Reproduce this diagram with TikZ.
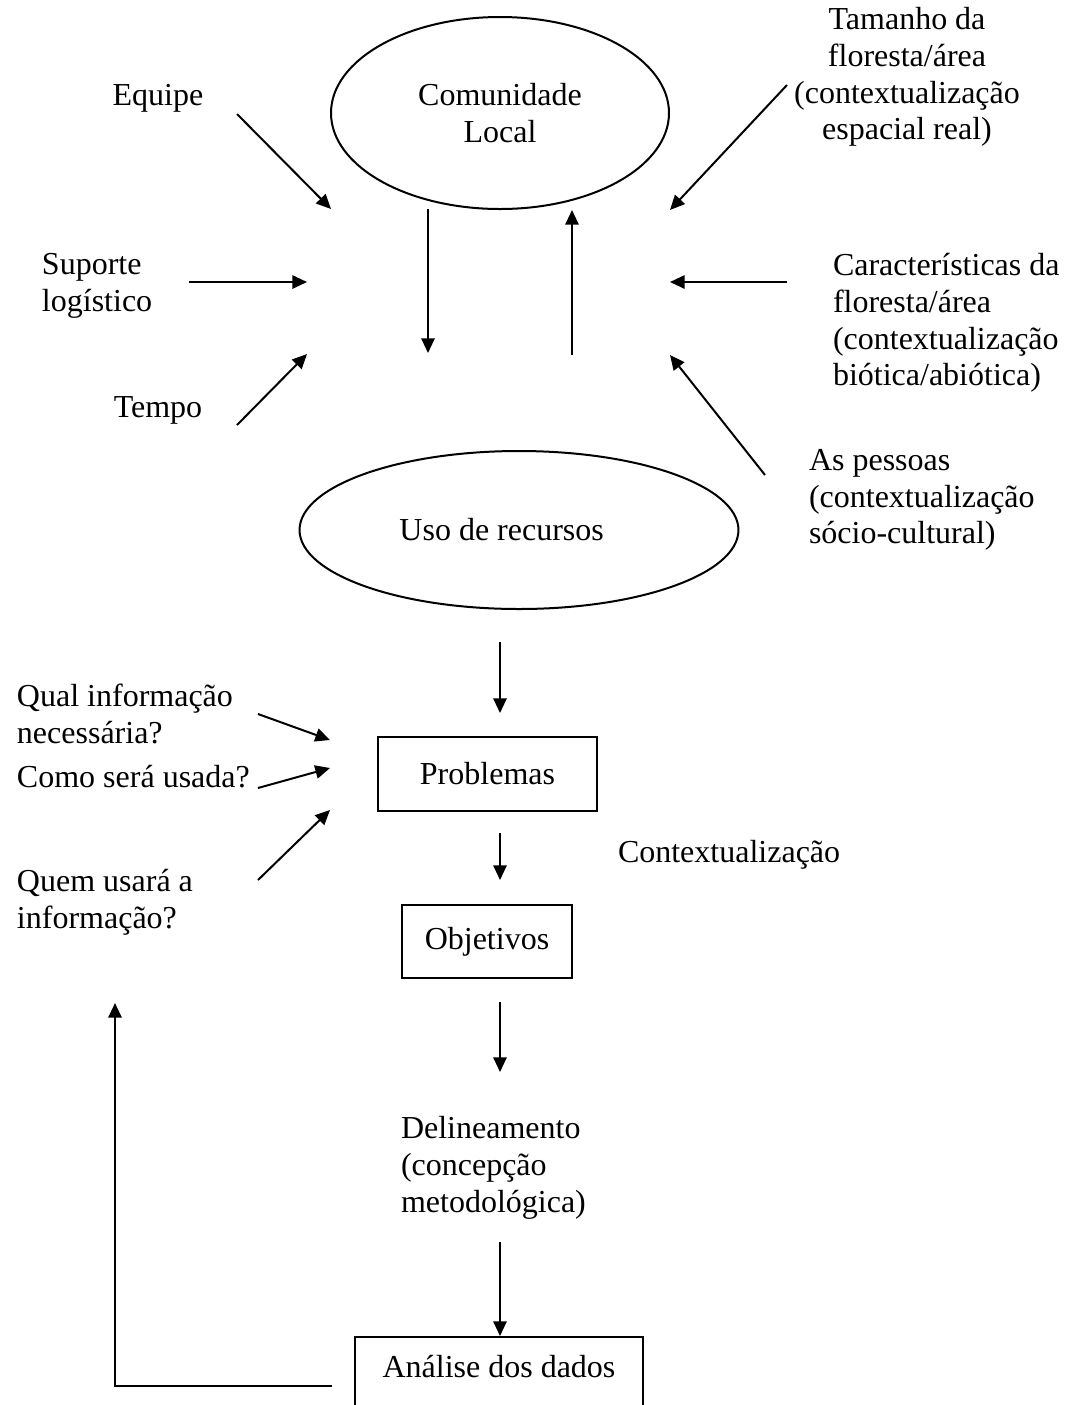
\documentclass[tikz,border=0pt]{standalone}
\usepackage{fontspec}
\setmainfont{Liberation Serif}
\usetikzlibrary{arrows.meta,shapes.geometric,positioning}

\begin{document}
\begin{tikzpicture}[x=0.375pt,y=-0.375pt,>={Triangle[length=5.5pt,width=5pt]},line width=0.75pt,
    every node/.style={font=\fontsize{12}{13.8}\selectfont,inner sep=0pt},
    rotulo/.style={align=left,anchor=west},
    elipse/.style={draw,ellipse,align=center},
    caixa/.style={draw,rectangle}]
  \useasboundingbox (0,0) rectangle (1070,1405);
  \node[elipse,minimum width=126.75pt,minimum height=72pt] (comunidade) at (500,113) {Comunidade\\Local};
  \node[elipse,minimum width=164.6pt,minimum height=59.25pt] (uso) at (519,530) {Uso de recursos\hspace*{13pt}};
  \node (equipe) at (158,98) {Equipe};
  \node[rotulo] (suporte) at (41,286) {Suporte\\log\'istico};
  \node (tempo) at (158,410) {Tempo};
  \node[align=center] (tamanho) at (907,77) {Tamanho da\\floresta/área\\(contextualização\\espacial real)};
  \node[rotulo] (caract) at (832,323) {Características da\\floresta/área\\(contextualização\\biótica/abiótica)};
  \node[rotulo] (pessoas) at (808,500) {As pessoas\\(contextualização\\sócio-cultural)};
  \node[caixa,minimum width=82.1pt,minimum height=27.75pt] (problemas) at (487.5,774) {Problemas};
  \node[rotulo] (qual) at (16,714) {Qual informação\\necessária?};
  \node[rotulo] (como) at (16,777) {Como será usada?};
  \node[rotulo] (quem) at (16,902) {Quem usará a\\informação?};
  \node[rotulo] (contexto) at (617,855) {Contextualização};
  \node[caixa,minimum width=63.75pt,minimum height=27.4pt] (objetivos) at (487,941.5) {Objetivos};
  \node[rotulo] (delineamento) at (400,1168) {Delineamento\\(concepção\\metodológica)};
  \node[caixa,minimum width=108pt,text height=15pt,text depth=30pt,anchor=base] (analise) at (499,1377) {Análise dos dados};
  \coordinate (eqA) at (237,114);  \coordinate (eqB) at (331,209);
  \coordinate (suA) at (189,282);  \coordinate (suB) at (307,282);
  \coordinate (teA) at (237,425);  \coordinate (teB) at (307,354);
  \coordinate (taA) at (787,85);   \coordinate (taB) at (670,210);
  \coordinate (caA) at (787,282);  \coordinate (caB) at (670,282);
  \coordinate (peA) at (765,475);  \coordinate (peB) at (670,355);
  \coordinate (dsA) at (428,209);  \coordinate (dsB) at (428,353);
  \coordinate (soA) at (572,355);  \coordinate (soB) at (572,210);
  \coordinate (usA) at (500,642);  \coordinate (usB) at (500,713);
  \coordinate (quA) at (258,714);  \coordinate (quB) at (330,740);
  \coordinate (coA) at (258,788);  \coordinate (coB) at (330,768);
  \coordinate (qmA) at (258,880);  \coordinate (qmB) at (330,810);
  \coordinate (prA) at (500,833);  \coordinate (prB) at (500,880);
  \coordinate (obA) at (500,1002); \coordinate (obB) at (500,1072);
  \coordinate (deA) at (500,1242);
  \coordinate (voA) at (332,1386); \coordinate (voB) at (115,1386); \coordinate (voC) at (115,1003);
  \draw[->] (eqA) -- (eqB);
  \draw[->] (suA) -- (suB);
  \draw[->] (teA) -- (teB);
  \draw[->] (taA) -- (taB);
  \draw[->] (caA) -- (caB);
  \draw[->] (peA) -- (peB);
  \draw[->] (dsA) -- (dsB);
  \draw[->] (soA) -- (soB);
  \draw[->] (usA) -- (usB);
  \draw[->] (quA) -- (quB);
  \draw[->] (coA) -- (coB);
  \draw[->] (qmA) -- (qmB);
  \draw[->] (prA) -- (prB);
  \draw[->] (obA) -- (obB);
  \draw[->] (deA) -- (deA |- analise.north);
  \draw[->] (voA) -- (voB) -- (voC);
\end{tikzpicture}
\end{document}
